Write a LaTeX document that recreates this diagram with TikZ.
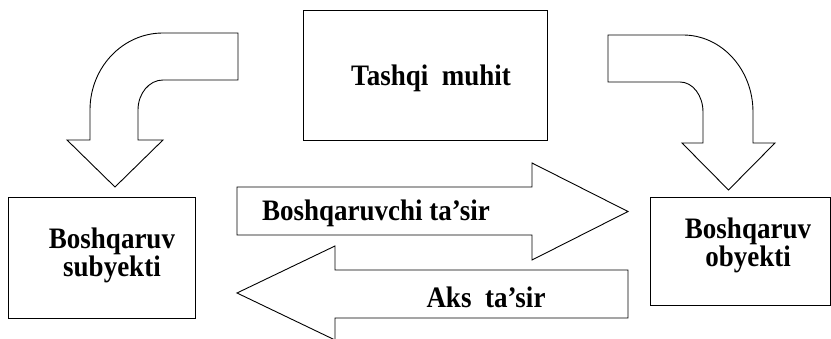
\documentclass[tikz,border=0pt]{standalone}
\usepackage{fontspec}
\setmainfont{Liberation Serif}
\newcommand{\tallt}[1]{\scalebox{1}[1.1]{#1}}
\begin{document}
\begin{tikzpicture}[x=1pt,y=1pt,
  line width=0.9pt,
  boxnode/.style={draw, line width=0.9pt, inner sep=0pt},
  lbl/.style={font=\fontsize{27}{24}\selectfont\bfseries, align=center, inner sep=0pt},
  blockarrow/.style={draw, line width=0.9pt, line join=miter, fill=white}]
\useasboundingbox (0,0) rectangle (831,339);

% boxes
\node[boxnode, minimum width=244pt, minimum height=130pt] (env) at (425,264) {};
\node[boxnode, minimum width=187pt, minimum height=121pt] (subj) at (101.5,81.5) {};
\node[boxnode, minimum width=180pt, minimum height=108pt] (obj) at (740,88) {};

\node[lbl] (envt) at (431,261) {\tallt{Tashqi\ \ muhit}};
\node[lbl] (subjt) at (112,84) {\tallt{Boshqaruv}\\\tallt{subyekti}};
\node[lbl] (objt) at (748,94) {\tallt{Boshqaruv}\\\tallt{obyekti}};

% curved block arrow, left
\draw[blockarrow] (238,306) -- (163,306)
  arc[start angle=90, end angle=180, x radius=73, y radius=77]
  -- (90,199) -- (67,199) -- (115,152) -- (163,199) -- (138,199) -- (138,229)
  arc[start angle=180, end angle=90, x radius=25, y radius=30]
  -- (238,259) -- cycle;

% curved block arrow, right
\draw[blockarrow] (608,304) -- (683,304)
  arc[start angle=90, end angle=0, x radius=70, y radius=77]
  -- (753,196) -- (775,196) -- (728.5,149) -- (682,196) -- (703,196) -- (703,227)
  arc[start angle=0, end angle=90, x radius=23, y radius=30]
  -- (608,257) -- cycle;

% straight block arrows
\draw[blockarrow] (237,152) -- (532,152) -- (532,176) -- (628,127.5) -- (532,79) -- (532,104) -- (237,104) -- cycle;
\draw[blockarrow] (628,69) -- (335,69) -- (335,93) -- (237,46) -- (335,-1) -- (335,21) -- (628,21) -- cycle;

\node[lbl] (ctl) at (376,126) {\tallt{Boshqaruvchi ta’sir}};
\node[lbl] (fb) at (486,42) {\tallt{Aks\ \ ta’sir}};
\end{tikzpicture}
\end{document}
